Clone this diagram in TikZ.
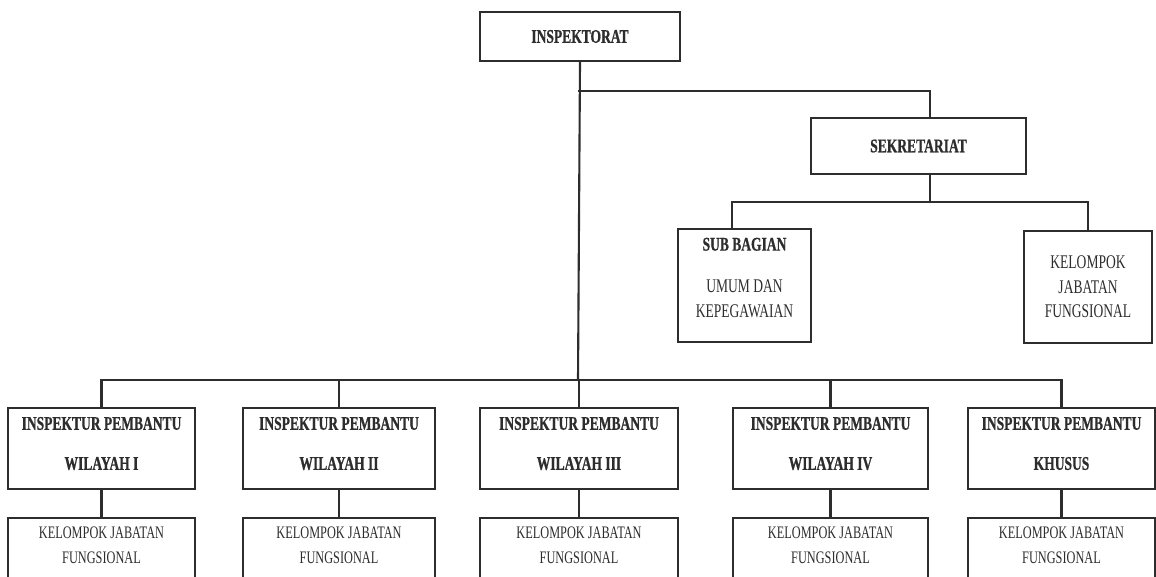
\documentclass[tikz,border=0pt]{standalone}
\usepackage{fontspec}
\setmainfont{Liberation Serif}[FakeStretch=0.7,BoldFeatures={FakeBold=0.8}]
\usepackage{tikz}
\usetikzlibrary{calc}
\definecolor{ink}{RGB}{45,45,45}
\tikzset{
  unit/.style={draw=ink,line width=1.2pt,fill=white,align=center,text=ink,inner sep=2pt},
  head/.style={unit,font=\fontsize{11}{13}\selectfont\bfseries,minimum height=0.98cm},
  ipb/.style={unit,font=\fontsize{11}{22.8}\selectfont\bfseries,minimum height=1.62cm},
  jaf/.style={unit,font=\fontsize{10}{14}\selectfont,minimum height=1.24cm},
  link/.style={draw=ink,line width=1.2pt},
}
\begin{document}
\begin{tikzpicture}[x=0.02cm,y=-0.02cm]
  \useasboundingbox (0,0) rectangle (1156,577);
  \clip (0,0) rectangle (1156,577);
  % top
  \node[head,minimum width=4cm] (insp) at (580,36.5) {INSPEKTORAT};
  \node[head,minimum width=4.3cm,minimum height=1.12cm] (sekr) at (918.5,146) {SEKRETARIAT};
  \node[unit,font=\fontsize{11}{14}\selectfont,minimum width=2.66cm,minimum height=2.26cm] (sub) at (744.5,285.5)
    {\textbf{SUB BAGIAN}\\[10pt]UMUM DAN\\KEPEGAWAIAN\\[-5pt]\mbox{}};
  \node[unit,font=\fontsize{11}{14}\selectfont,minimum width=2.56cm,minimum height=2.24cm] (kel) at (1088,287)
    {KELOMPOK\\JABATAN\\FUNGSIONAL};
  % inspektur pembantu and their jabatan fungsional
  \foreach \n/\x/\w/\t in {1/101.5/3.74/WILAYAH I, 2/339/3.84/WILAYAH II, 3/579/3.96/WILAYAH III,
                           4/830.5/3.9/WILAYAH IV, 5/1061.5/3.74/KHUSUS}{
    \node[ipb,minimum width=\w cm] (ip\n) at (\x,448.5) {INSPEKTUR PEMBANTU\\\t\\[-17pt]\mbox{}};
    \node[jaf,minimum width=\w cm] (jf\n) at (\x,549) {KELOMPOK JABATAN\\FUNGSIONAL\\[-9.5pt]\mbox{}};
    \draw[link] (ip\n.south) -- (jf\n.north);}
  % connectors
  \coordinate (br) at (578,91);
  \coordinate (sk) at (930,118);
  \coordinate (sb) at (930,202);
  \coordinate (bus) at (578,380);
  \draw[link] (insp.south) -- (bus);
  \draw[link] (br) -| (sk);
  \draw[link] (sekr.south -| sb) -- (sb);
  \draw[link] ($(sub.north west)+(55,0)$) |- (sb) -| (kel.north);
  \draw[link] (ip1.north) |- (bus) -| (ip5.north);
  \foreach \n in {2,3,4}{\draw[link] (ip\n.north) -- (ip\n.north |- bus);}
\end{tikzpicture}
\end{document}
